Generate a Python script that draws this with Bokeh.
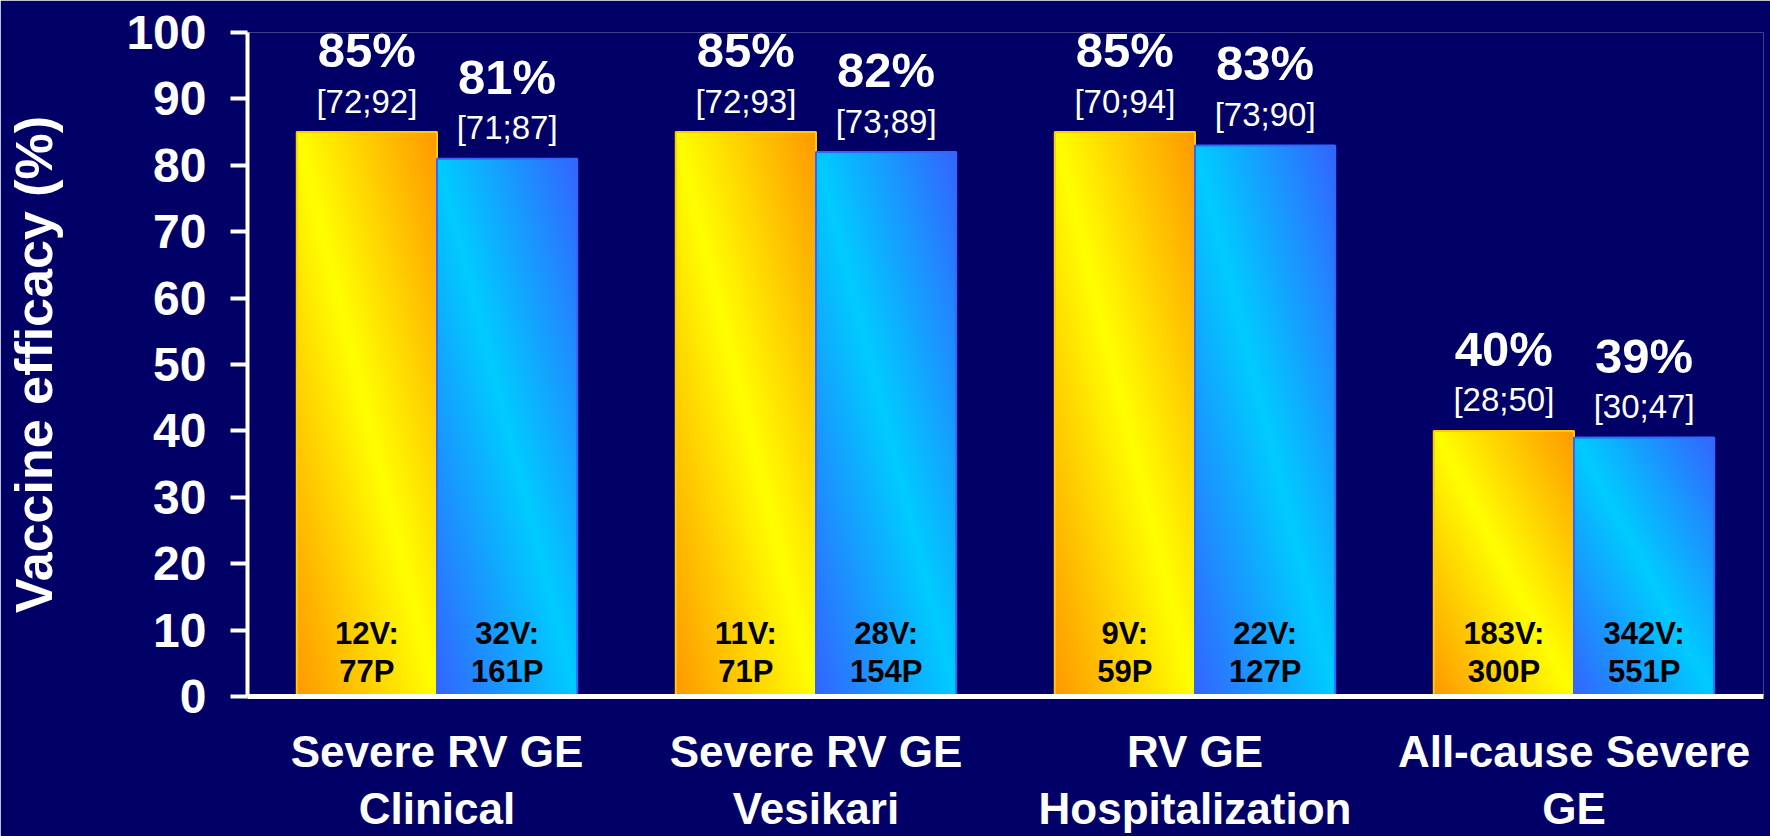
import numpy as np
from bokeh.plotting import figure
from bokeh.models import ColumnDataSource, FixedTicker, Range1d
from bokeh.core.properties import value
from bokeh.embed import file_html
from bokeh.resources import INLINE

# ---- data -------------------------------------------------------------
categories = [
    "Severe RV GE\nClinical",
    "Severe RV GE\nVesikari",
    "RV GE\nHospitalization",
    "All-cause Severe\nGE",
]
efficacy_a = [85, 85, 85, 40]
efficacy_b = [81, 82, 83, 39]
ci_a_low = [72, 72, 70, 28]
ci_a_high = [92, 93, 94, 50]
ci_b_low = [71, 73, 73, 30]
ci_b_high = [87, 89, 90, 47]
cases_vaccine_a = [12, 11, 9, 183]
cases_placebo_a = [77, 71, 59, 300]
cases_vaccine_b = [32, 28, 22, 342]
cases_placebo_b = [161, 154, 127, 551]
y_ticks = list(range(0, 101, 10))

# ---- styling ------------------------------------------------------------
BG = "#000066"
FONT = "Liberation Sans"
BAR_W = 0.37

positions = list(range(1, len(categories) + 1))


def diagonal_gradient(mid_hex, corner_hex, ny=300, nx=80):
    """RGBA image: mid colour along the top-left -> bottom-right diagonal,
    corner colour towards the other two corners."""
    mid = np.array([int(mid_hex[i:i + 2], 16) for i in (1, 3, 5)], float)
    corner = np.array([int(corner_hex[i:i + 2], 16) for i in (1, 3, 5)], float)
    u = np.linspace(0, 1, nx)[None, :]
    v = np.linspace(0, 1, ny)[:, None]          # v measured from the top
    t = np.clip(np.abs(u - v), 0, 1)[..., None]
    rgb = mid * (1 - t) + corner * t
    img = np.empty((ny, nx), dtype=np.uint32)
    view = img.view(dtype=np.uint8).reshape((ny, nx, 4))
    view[..., :3] = rgb[::-1].astype(np.uint8)   # row 0 is the bottom
    view[..., 3] = 255
    return img


grad_a = diagonal_gradient("#FFFF00", "#FF9900")
grad_b = diagonal_gradient("#00CCFF", "#3366FF")

x_a = [p - BAR_W / 2 for p in positions]
x_b = [p + BAR_W / 2 for p in positions]

src_a = ColumnDataSource(dict(
    x=x_a, left=[x - BAR_W / 2 for x in x_a], top=efficacy_a,
    img=[grad_a] * len(positions), zero=[0] * len(positions),
    w=[BAR_W] * len(positions),
    pct=[f"{v}%" for v in efficacy_a],
    ci=[f"[{lo};{hi}]" for lo, hi in zip(ci_a_low, ci_a_high)],
    nv=[f"{v}V:" for v in cases_vaccine_a],
    np_=[f"{v}P" for v in cases_placebo_a],
))
src_b = ColumnDataSource(dict(
    x=x_b, left=[x - BAR_W / 2 for x in x_b], top=efficacy_b,
    img=[grad_b] * len(positions), zero=[0] * len(positions),
    w=[BAR_W] * len(positions),
    pct=[f"{v}%" for v in efficacy_b],
    ci=[f"[{lo};{hi}]" for lo, hi in zip(ci_b_low, ci_b_high)],
    nv=[f"{v}V:" for v in cases_vaccine_b],
    np_=[f"{v}P" for v in cases_placebo_b],
))

p = figure(
    width=1770, height=836,
    x_range=Range1d(0.5, 4.5), y_range=Range1d(0, 100),
    output_backend="svg", toolbar_location=None,
    min_border_left=247, min_border_right=7,
    min_border_top=32, min_border_bottom=140,
    background_fill_color=BG, border_fill_color=BG,
    outline_line_color=None,
)
p.grid.visible = False

for src, edge in ((src_a, "#FFCC00"), (src_b, "#3366FF")):
    p.image_rgba(image="img", x="left", y="zero", dw="w", dh="top", source=src)
    p.vbar(x="x", top="top", bottom=0, width=BAR_W, source=src,
           fill_color=None, line_color=edge, line_width=2)
    p.text(x="x", y="top", text="pct", source=src, y_offset=-82,
           text_font=value(FONT), text_font_style="bold",
           text_font_size="49px", text_color="white",
           text_align="center", text_baseline="alphabetic")
    p.text(x="x", y="top", text="ci", source=src, y_offset=-31,
           text_font=value(FONT), text_font_size="33px",
           text_color="white", text_align="center",
           text_baseline="alphabetic")
    p.text(x="x", y="zero", text="nv", source=src, y_offset=-63,
           text_font=value(FONT), text_font_style="bold",
           text_font_size="31px", text_color="black",
           text_align="center", text_baseline="alphabetic")
    p.text(x="x", y="zero", text="np_", source=src, y_offset=-25,
           text_font=value(FONT), text_font_style="bold",
           text_font_size="31px", text_color="black",
           text_align="center", text_baseline="alphabetic")

# y axis
ya = p.yaxis[0]
ya.ticker = FixedTicker(ticks=y_ticks)
ya.minor_tick_line_color = None
ya.axis_line_color = "white"
ya.axis_line_width = 4
ya.major_tick_line_color = "white"
ya.major_tick_line_width = 4
ya.major_tick_in = 0
ya.major_tick_out = 17
ya.major_label_standoff = 24
ya.major_label_text_color = "white"
ya.major_label_text_font = FONT
ya.major_label_text_font_style = "bold"
ya.major_label_text_font_size = "48px"
ya.axis_label = "Vaccine efficacy (%)"
ya.axis_label_text_color = "white"
ya.axis_label_text_font = FONT
ya.axis_label_text_font_style = "bold"
ya.axis_label_text_font_size = "52px"
ya.axis_label_standoff = 60

# x axis
xa = p.xaxis[0]
xa.ticker = FixedTicker(ticks=positions)
xa.major_label_overrides = {pos: name for pos, name in zip(positions, categories)}
xa.minor_tick_line_color = None
xa.major_tick_line_color = None
xa.axis_line_color = "white"
xa.axis_line_width = 5
xa.major_label_standoff = 24
xa.major_label_text_color = "white"
xa.major_label_text_font = FONT
xa.major_label_text_font_style = "bold"
xa.major_label_text_font_size = "44px"
xa.major_label_text_line_height = 1.18

open("out.html", "w").write(file_html(p, INLINE))
